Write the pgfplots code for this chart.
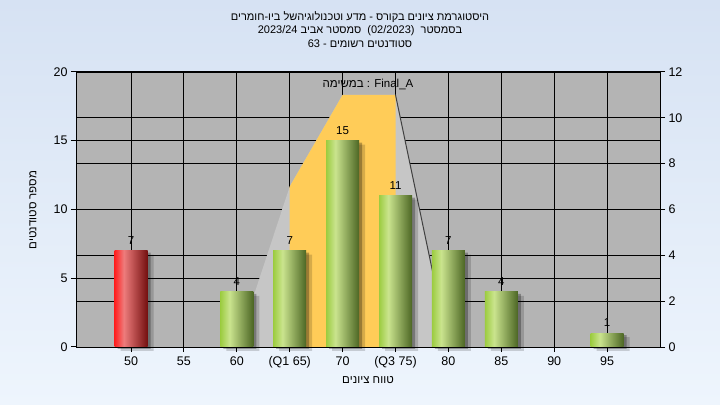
\documentclass[border=0pt]{standalone}
\usepackage{fontspec}
\setmainfont{Liberation Sans}
\newfontfamily\heb[Script=Hebrew]{Liberation Sans}
\TeXXeTstate=1
\usepackage{pgfplots}
\pgfplotsset{compat=1.18}
\definecolor{plotgray}{RGB}{180,180,180}
\definecolor{lightpoly}{RGB}{198,198,198}
\definecolor{goldc}{RGB}{255,204,88}
\definecolor{gA}{RGB}{156,204,64}
\definecolor{gB}{RGB}{202,228,142}
\definecolor{gC}{RGB}{76,102,36}
\definecolor{rA}{RGB}{255,30,30}
\definecolor{rB}{RGB}{238,124,124}
\definecolor{rC}{RGB}{116,16,16}
\definecolor{bgtop}{RGB}{214,226,243}
\definecolor{bgbot}{RGB}{238,245,253}
\pgfdeclarehorizontalshading{greenbar}{100bp}{color(0bp)=(gA); color(25bp)=(gA); color(39bp)=(gB); color(75bp)=(gC); color(100bp)=(gC)}
\pgfdeclarehorizontalshading{redbar}{100bp}{color(0bp)=(rA); color(25bp)=(rA); color(39bp)=(rB); color(75bp)=(rC); color(100bp)=(rC)}
\newcommand{\tfont}{\fontsize{12.5bp}{14bp}\selectfont}
\newcommand{\sfont}{\fontsize{11.5bp}{13bp}\selectfont}
\newcommand{\hfont}{\fontsize{11bp}{13bp}\selectfont}
\pgfplotsset{
  gbar/.style={ybar, bar width=33bp, bar shift=0pt, draw=none, shading=greenbar,
    nodes near coords, nodes near coords style={font=\sfont, anchor=south, yshift=3bp, text=black}},
  rbar/.style={ybar, bar width=33bp, bar shift=0pt, draw=none, shading=redbar,
    nodes near coords, nodes near coords style={font=\sfont, anchor=south, yshift=3bp, text=black}},
}
\begin{document}
\begin{tikzpicture}
\shade[top color=bgtop, bottom color=bgbot] (0,0) rectangle (720bp,405bp);
% titles
\node[font=\hfont\heb, inner sep=0pt] at (360bp,388bp) {\beginR היסטוגרמת ציונים בקורס - מדע וטכנולוגיהשל ביו-חומרים\endR};
\node[font=\hfont\heb, inner sep=0pt] at (360bp,374.5bp) {\beginR בסמסטר \ \beginL(02/2023)\endL{} \ סמסטר אביב \beginL2023/24\endL\endR};
\node[font=\hfont\heb, inner sep=0pt] at (360bp,361bp) {\beginR סטודנטים רשומים - \beginL63\endL\endR};
\node[font=\sfont\heb, inner sep=0pt, rotate=90] at (33bp,195bp) {\beginR מספר סטודנטים\endR};
\node[font=\sfont\heb, inner sep=0pt] at (368bp,25bp) {\beginR טווח ציונים\endR};
% right axis: background, grid, polygon
\begin{axis}[
  at={(76bp,58bp)}, anchor=south west, scale only axis,
  width=584bp, height=275bp,
  xmin=-1.04, xmax=10, ymin=0, ymax=12,
  axis background/.style={fill=plotgray},
  axis line style={black, line width=1bp},
  grid=major, grid style={black, line width=0.9bp},
  xtick={0,...,9},
  xticklabels={50,55,60,(Q1 65),70,(Q3 75),80,85,90,95},
  xtick pos=bottom,
  ytick={0,2,...,12},
  ytick pos=right, yticklabel pos=right,
  extra y ticks={3,9},
  extra y tick labels={},
  extra y tick style={major tick length=0pt, grid=major},
  tick align=outside,
  major tick length=5bp,
  tick style={black, line width=1bp},
  /pgf/number format/assume math mode=true,
  ticklabel style={font=\tfont},
  x tick label style={yshift=-1bp},
  clip=true,
]
\addplot[fill=lightpoly, draw=none] coordinates {(2,0) (3,7) (4,11) (5,11) (6,0)} --cycle;
\addplot[fill=goldc, draw=none] coordinates {(3,0) (3,7) (4,11) (5,11) (5,0)} --cycle;
\addplot[draw=black!75, line width=1bp] coordinates {(5,11) (6,0)};
\node[font=\sfont, anchor=north, inner sep=0pt] at (rel axis cs:0.5,0.975) {{\heb\beginR במשימה\endR} : Final\_A};
\end{axis}
% left axis: bars
\begin{axis}[
  at={(76bp,58bp)}, anchor=south west, scale only axis,
  width=584bp, height=275bp,
  xmin=-1.04, xmax=10, ymin=0, ymax=20,
  axis x line=none, axis y line*=left,
  axis line style={black, line width=1bp},
  ytick={0,5,...,20},
  tick align=outside,
  major tick length=5bp,
  tick style={black, line width=1bp},
  /pgf/number format/assume math mode=true,
  ticklabel style={font=\tfont},
  clip=false,
]
% shadows
\addplot[ybar, bar width=33bp, bar shift=6bp, fill=black, opacity=0.16, draw=none, yshift=-4bp] coordinates {(0,7) (2,4) (3,7) (4,15) (5,11) (6,7) (7,4) (9,1)};
\addplot[ybar, bar width=33bp, bar shift=3bp, fill=black, opacity=0.28, draw=none, yshift=-2bp] coordinates {(0,7) (2,4) (3,7) (4,15) (5,11) (6,7) (7,4) (9,1)};
% bars
\addplot[rbar] coordinates {(0,7)};
\addplot[gbar] coordinates {(2,4)};
\addplot[gbar] coordinates {(3,7)};
\addplot[gbar] coordinates {(4,15)};
\addplot[gbar] coordinates {(5,11)};
\addplot[gbar] coordinates {(6,7)};
\addplot[gbar] coordinates {(7,4)};
\addplot[gbar] coordinates {(9,1)};
\end{axis}
\pgfresetboundingbox
\useasboundingbox (0,0) rectangle (720bp,405bp);
\end{tikzpicture}
\end{document}
